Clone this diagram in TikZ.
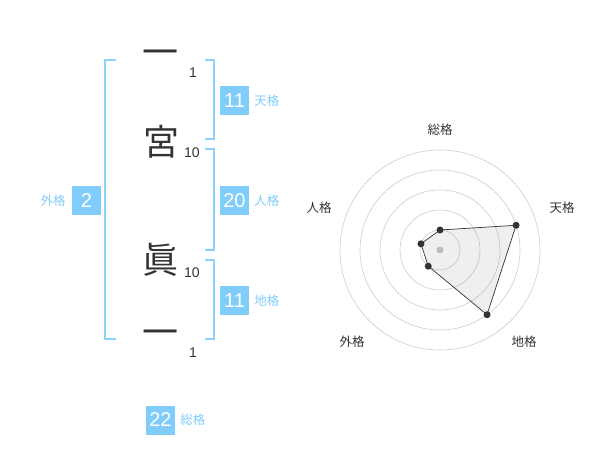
\documentclass[tikz,border=0pt]{standalone}
\usepackage{fontspec}
\setmainfont{Liberation Sans}
\newfontfamily\jpfont{Noto Sans CJK JP}
\usetikzlibrary{calc,positioning}

\definecolor{kakublue}{HTML}{80CDF9}
\definecolor{brackblue}{HTML}{8DD0F8}
\definecolor{inkgray}{HTML}{333333}

\begin{document}
\begin{tikzpicture}[x=1pt,y=-1pt,
		      kanji/.style={font=\jpfont\fontsize{36}{36}\selectfont,text=inkgray,inner sep=0pt},
		      strk/.style={font=\fontsize{14}{14}\selectfont,text=inkgray,inner sep=0pt},
		      numbox/.style={fill=kakublue,text=white,minimum width=29pt,minimum height=29pt,inner sep=0pt,font=\fontsize{20}{20}\selectfont},
		      kaku/.style={font=\jpfont\fontsize{12.5}{12.5}\selectfont,text=kakublue,inner sep=0pt},
		      brk/.style={draw=brackblue,line width=1.6pt},
		      ring/.style={draw=black!20,line width=0.6pt},
		      axlab/.style={font=\jpfont\fontsize{12.5}{12.5}\selectfont,text=inkgray,inner sep=0pt},
		      dot/.style={circle,fill=inkgray,inner sep=0pt,minimum size=7pt}
		    ]
    \useasboundingbox (0,0) rectangle (600,470);

    % name characters and stroke counts
    \node[kanji] (k1) at (160,58) {一};
    \node[kanji] (k2) at (161,142) {宮};
    \node[kanji] (k3) at (160,260) {眞};
    \node[kanji] (k4) at (160,338) {一};
    \node[strk] (s1) at (193,73) {1};
    \node[strk] (s2) at (192,153) {10};
    \node[strk] (s3) at (192,273) {10};
    \node[strk] (s4) at (193,353) {1};

    % brackets
    \draw[brk] (116,60) -- (105,60) -- (105,339) -- (116,339);
    \draw[brk] (205,60) -- (214,60) -- (214,139) -- (205,139);
    \draw[brk] (205,149) -- (214,149) -- (214,250) -- (205,250);
    \draw[brk] (205,260) -- (214,260) -- (214,339) -- (205,339);

    \node[numbox] (ten) at (234.5,101) {11};
    \node[kaku,right=5pt of ten] (tenl) {天格};
    \node[numbox] (jin) at (234.5,201) {20};
    \node[kaku,right=5pt of jin] (jinl) {人格};
    \node[numbox] (chi) at (234.5,301) {11};
    \node[kaku,right=5pt of chi] (chil) {地格};
    \node[numbox] (gai) at (86.5,201) {2};
    \node[kaku,left=6pt of gai] (gail) {外格};
    \node[numbox] (sou) at (160.5,420) {22};
    \node[kaku,right=5pt of sou] (soul) {総格};

    % radar chart
    \coordinate (c) at (440,250);
    \foreach \r in {20,40,...,100}
      \draw[ring] (c) circle[radius=\r];
    \fill[black!22] (c) circle[radius=3.5];
    \foreach \n/\a/\r in {sou/-90/20,ten/-18/80,chi/54/80,gai/126/20,jin/198/20}
      \coordinate (p\n) at ($(c)+(\a:\r)$);
    \fill[black!60,opacity=0.1] (psou) -- (pten) -- (pchi) -- (pgai) -- (pjin) -- cycle;
    \draw[inkgray,line width=0.7pt] (psou) -- (pten) -- (pchi) -- (pgai) -- (pjin) -- cycle;
    \foreach \n in {sou,ten,chi,gai,jin}
      \node[dot] (d\n) at (p\n) {};

    \node[axlab] (asou) at (440,130) {総格};
    \node[axlab] (aten) at (562,208) {天格};
    \node[axlab] (achi) at (524,342) {地格};
    \node[axlab] (agai) at (352,342) {外格};
    \node[axlab] (ajin) at (319,208) {人格};

  \end{tikzpicture}
\end{document}
